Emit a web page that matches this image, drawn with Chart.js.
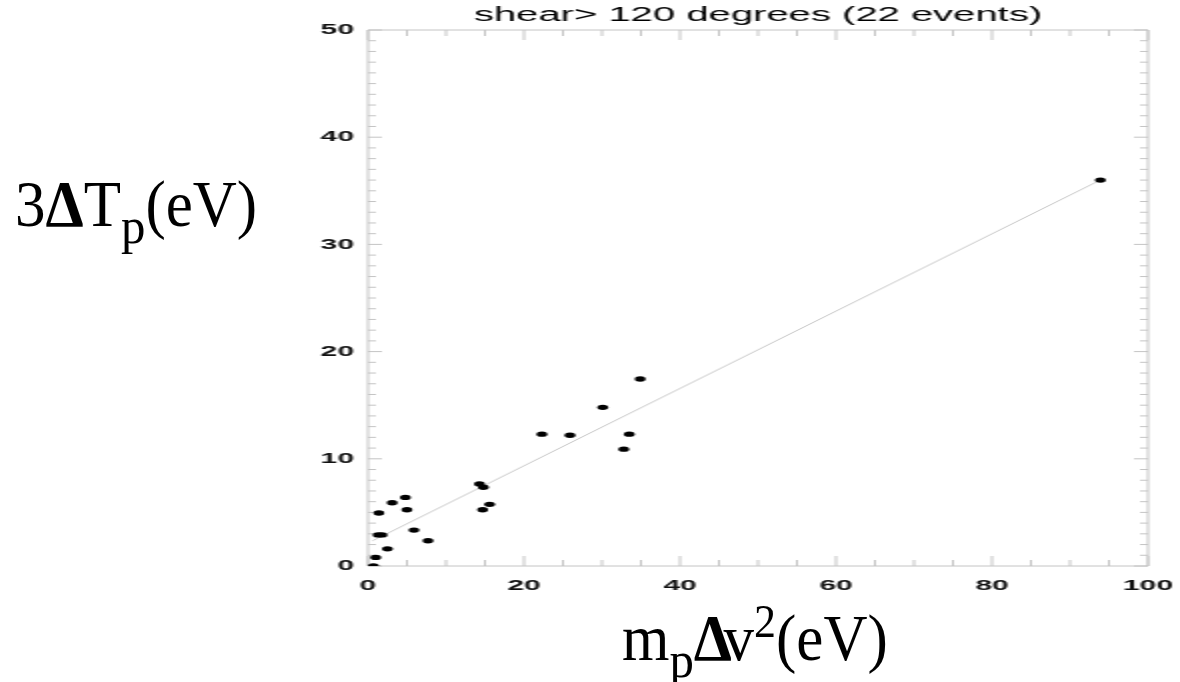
<!DOCTYPE html>
<html>
<head>
<meta charset="utf-8">
<script src="https://cdn.jsdelivr.net/npm/chart.js@4.4.1/dist/chart.umd.min.js"></script>
<style>
html,body{margin:0;padding:0;background:#fff;width:1180px;height:682px;overflow:hidden}
#wrap{position:absolute;left:0;top:0;width:590px;height:682px;transform:scaleX(2);transform-origin:0 0}
canvas{display:block}
.lab{position:absolute;font-family:"Liberation Serif","Times New Roman",serif;font-size:61px;line-height:61px;color:#000;white-space:nowrap;transform-origin:0 0;transform:scaleY(1.06)}
.lab .sb{font-size:0.8em;position:relative;top:0.32em;line-height:0}
.lab .sp{font-size:0.72em;position:relative;top:-0.5em;line-height:0}
.lab .d{font-weight:bold}
#ylab{left:15px;top:172px}
#xlab{left:622px;top:606px}
</style>
</head>
<body>
<div id="wrap"><canvas id="c" width="590" height="682"></canvas></div>
<div class="lab" id="ylab">3<span class="d">Δ</span>T<span class="sb">p</span>(eV)</div>
<div class="lab" id="xlab">m<span class="sb">p</span><span class="d" style="margin-right:-0.14em">Δ</span>v<span class="sp">2</span>(eV)</div>
<script>
// ---- data ----
const titleText = 'shear> 120 degrees (22 events)';
const xValues = [0.7, 1.0, 1.4, 1.3, 1.8, 2.5, 3.1, 4.8, 5.0, 5.9, 7.7, 14.3, 14.8, 14.7, 15.6, 22.3, 25.9, 30.1, 32.8, 33.5, 34.9, 93.9];
const yValues = [0.0, 0.8, 4.95, 2.9, 2.9, 1.6, 5.9, 6.4, 5.25, 3.35, 2.35, 7.65, 7.35, 5.25, 5.75, 12.3, 12.2, 14.8, 10.9, 12.3, 17.45, 36.0];
const fitX = [0.6, 93.9];
const fitY = [2.35, 36.0];
const xTickValues = [0, 20, 40, 60, 80, 100];
const yTickValues = [0, 10, 20, 30, 40, 50];
const xMinorStep = 5;
const yMinorStep = 1;

const points = xValues.map((x, i) => ({x: x, y: yValues[i]}));
const fitPoints = fitX.map((x, i) => ({x: x, y: fitY[i]}));

const boxTicks = {
  id: 'boxTicks',
  beforeDatasetsDraw(chart) {
    const {ctx, chartArea: a, scales: {x, y}} = chart;
    ctx.save();
    ctx.strokeStyle = '#c4c4c4';
    ctx.lineWidth = 1;
    ctx.beginPath();
    ctx.rect(a.left, a.top, a.right - a.left, a.bottom - a.top);
    const xMin = xTickValues[0], xMax = xTickValues[xTickValues.length - 1];
    for (let v = xMin; v <= xMax + 1e-9; v += xMinorStep) {
      const px = x.getPixelForValue(v);
      const len = xTickValues.includes(v) ? 10 : 6;
      ctx.moveTo(px, a.bottom); ctx.lineTo(px, a.bottom - len);
      ctx.moveTo(px, a.top); ctx.lineTo(px, a.top + len);
    }
    const yMin = yTickValues[0], yMax = yTickValues[yTickValues.length - 1];
    for (let v = yMin; v <= yMax + 1e-9; v += yMinorStep) {
      const py = y.getPixelForValue(v);
      const len = yTickValues.includes(v) ? 7 : 4;
      ctx.moveTo(a.left, py); ctx.lineTo(a.left + len, py);
      ctx.moveTo(a.right, py); ctx.lineTo(a.right - len, py);
    }
    ctx.stroke();
    ctx.restore();
  }
};

const tickFont = {family: '"Liberation Sans", Arial, Helvetica, sans-serif', size: 15, weight: 'bold'};

new Chart(document.getElementById('c'), {
  type: 'scatter',
  data: {
    datasets: [
      {
        data: fitPoints,
        showLine: true,
        borderColor: '#c8c8c8',
        borderWidth: 1,
        pointRadius: 0,
        order: 2
      },
      {
        data: points,
        backgroundColor: '#000',
        borderWidth: 0,
        pointRadius: 2.7,
        order: 1
      }
    ]
  },
  options: {
    responsive: false,
    animation: false,
    events: [],
    layout: {padding: {left: 0, right: 16, top: 0, bottom: 0}},
    plugins: {
      legend: {display: false},
      tooltip: {enabled: false},
      title: {
        display: true,
        text: titleText,
        fullSize: false,
        color: '#000',
        font: {family: '"Liberation Sans", Arial, Helvetica, sans-serif', size: 20, weight: 'normal', lineHeight: 1.2},
        padding: {top: 3, bottom: 3}
      }
    },
    scales: {
      x: {
        type: 'linear',
        min: xTickValues[0],
        max: xTickValues[xTickValues.length - 1],
        afterBuildTicks: s => { s.ticks = xTickValues.map(v => ({value: v})); },
        afterFit: s => { s.height = 116; s.paddingLeft = 0; s.paddingRight = 0; },
        grid: {display: false, drawTicks: false},
        border: {display: false},
        ticks: {padding: 11, color: '#111', font: tickFont, maxRotation: 0}
      },
      y: {
        type: 'linear',
        min: yTickValues[0],
        max: yTickValues[yTickValues.length - 1],
        afterBuildTicks: s => { s.ticks = yTickValues.map(v => ({value: v})); },
        afterFit: s => { s.width = 184; s.paddingTop = 0; s.paddingBottom = 0; },
        grid: {display: false, drawTicks: false},
        border: {display: false},
        ticks: {padding: 7, color: '#111', font: tickFont}
      }
    }
  },
  plugins: [boxTicks]
});
</script>
</body>
</html>
